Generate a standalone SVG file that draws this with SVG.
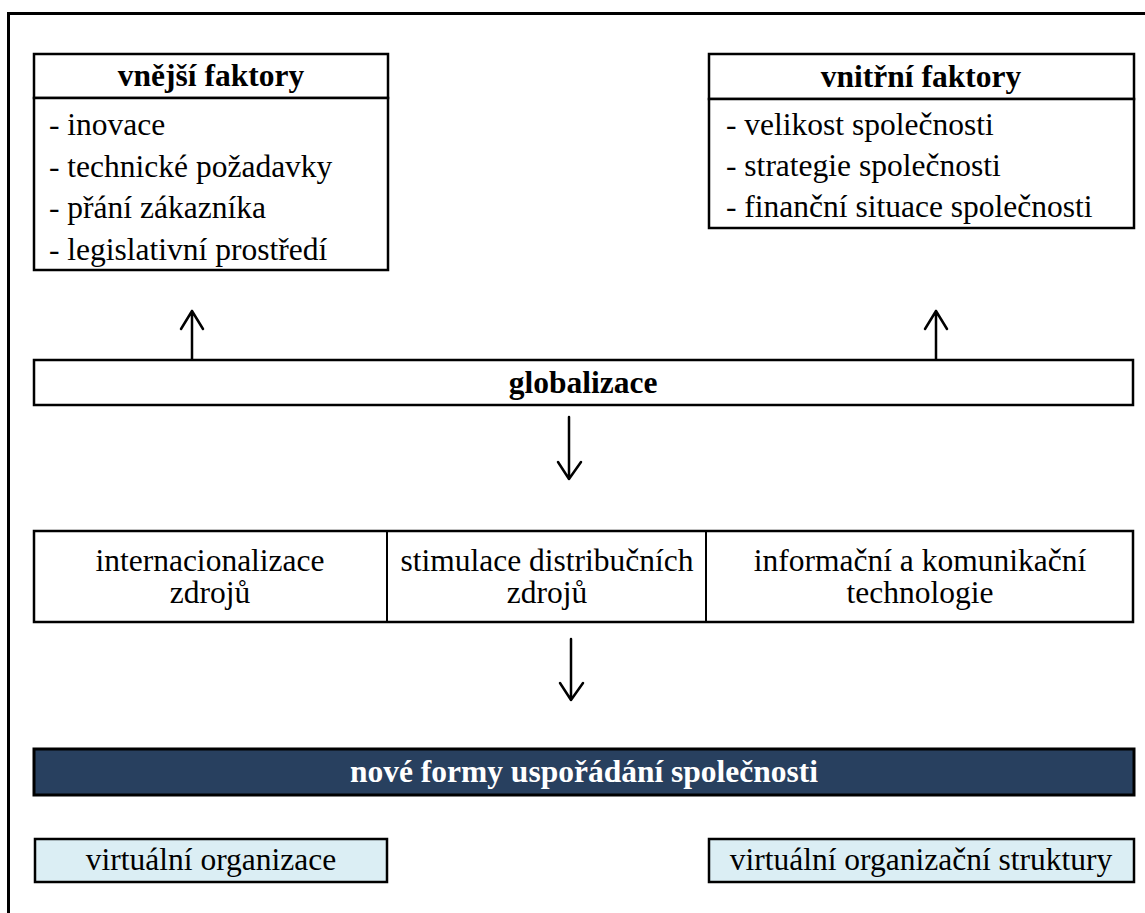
<svg xmlns="http://www.w3.org/2000/svg" width="1145" height="913" viewBox="0 0 1145 913">
  <style>
    .t { font-family: "Liberation Serif", "Times New Roman", serif; font-size: 31.5px; fill: #000; }
    .b { font-weight: bold; }
    .c { text-anchor: middle; }
    .box { fill: #fff; stroke: #000; stroke-width: 2.5; }
    .dark { fill: #28405f; stroke: #000; stroke-width: 3; }
    .light { fill: #dbeef4; stroke: #000; stroke-width: 2.5; }
    .w { fill: #fff; }
    .conn { fill: none; stroke: #000; stroke-width: 2.5; stroke-linecap: round; stroke-linejoin: round; }
  </style>
  <rect width="1145" height="913" fill="#fff"/>
  <!-- outer frame, running off the right and bottom edges -->
  <rect x="8.5" y="13.5" width="1160" height="930" fill="none" stroke="#000" stroke-width="3"/>

  <g id="vnejsi-faktory">
    <rect class="box" x="34" y="54" width="354" height="44"/>
    <rect class="box" x="34" y="98" width="354" height="172"/>
    <text class="t b c" x="211" y="86">vnější faktory</text>
    <text class="t" x="49" y="135">- inovace</text>
    <text class="t" x="49" y="177">- technické požadavky</text>
    <text class="t" x="49" y="218">- přání zákazníka</text>
    <text class="t" x="49" y="260">- legislativní prostředí</text>
  </g>

  <g id="vnitrni-faktory">
    <rect class="box" x="709" y="54" width="425" height="45"/>
    <rect class="box" x="709" y="99" width="425" height="129"/>
    <text class="t b c" x="921" y="87">vnitřní faktory</text>
    <text class="t" x="726" y="135">- velikost společnosti</text>
    <text class="t" x="726" y="176">- strategie společnosti</text>
    <text class="t" x="726" y="217">- finanční situace společnosti</text>
  </g>

  <g id="globalizace">
    <rect class="box" x="34" y="360" width="1099" height="45"/>
    <text class="t b c" x="583" y="393">globalizace</text>
  </g>

  <g id="faktory-zdroju">
    <rect class="box" x="34" y="531" width="1099" height="91"/>
    <line x1="387" y1="531" x2="387" y2="622" stroke="#000" stroke-width="2"/>
    <line x1="706" y1="531" x2="706" y2="622" stroke="#000" stroke-width="2"/>
    <text class="t c" x="210" y="571">internacionalizace</text>
    <text class="t c" x="210" y="603">zdrojů</text>
    <text class="t c" x="547" y="571">stimulace distribučních</text>
    <text class="t c" x="547" y="603">zdrojů</text>
    <text class="t c" x="920" y="571">informační a komunikační</text>
    <text class="t c" x="920" y="603">technologie</text>
  </g>

  <g id="nove-formy">
    <rect class="dark" x="34" y="749" width="1100" height="46"/>
    <text class="t b c w" x="584" y="782">nové formy uspořádání společnosti</text>
  </g>

  <g id="virtualni-organizace">
    <rect class="light" x="35" y="839" width="352" height="43"/>
    <text class="t c" x="211" y="870">virtuální organizace</text>
  </g>

  <g id="virtualni-struktury">
    <rect class="light" x="709" y="839" width="425" height="43"/>
    <text class="t c" x="921" y="870">virtuální organizační struktury</text>
  </g>

  <g id="connectors">
    <path class="conn" d="M192 359 V311 M181 329 L192 311 L203 329"/>
    <path class="conn" d="M936 359 V311 M925 329 L936 311 L947 329"/>
    <path class="conn" d="M569 417 V479 M558 462 L569 479 L581 462"/>
    <path class="conn" d="M571 639 V700 M560 683 L571 700 L583 683"/>
  </g>
</svg>
